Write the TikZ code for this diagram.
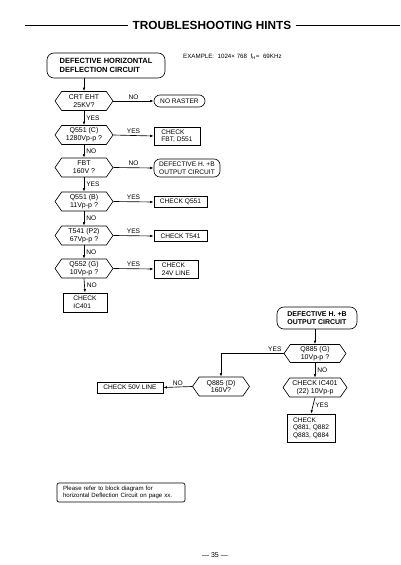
\documentclass[tikz,border=0pt]{standalone}
\usepackage{fontspec}
\setmainfont{Liberation Sans}
\usetikzlibrary{shapes.symbols,arrows.meta}
\begin{document}
\begin{tikzpicture}[x=1pt,y=-1pt,
  every node/.style={font=\fontsize{6.6}{7.6}\selectfont, inner sep=0pt},
  hex/.style={draw, shape=signal, signal to=east and west, signal pointer angle=110,
    minimum width=58pt, minimum height=19pt, align=center, line width=0.65pt,
    font=\fontsize{7}{7.8}\selectfont},
  chk/.style={draw, rectangle, align=left, line width=0.65pt},
  term/.style={draw, rounded corners=5pt, align=left, line width=0.65pt},
  arr/.style={line width=0.65pt, -{Latex[length=3.5pt,width=2.5pt]}},
  lblh/.style={above=1.5pt},
  lblv/.style={right=2pt},
]
\useasboundingbox (0,0) rectangle (400,565);
\fill[white] (0,0) rectangle (400,565);

% title
\node[font=\bfseries\fontsize{11.8}{13}\selectfont] (title) at (212,25) {TROUBLESHOOTING HINTS};
\draw[line width=1pt] (25,25) -- ([xshift=-4pt]title.west);
\draw[line width=1pt] ([xshift=4pt]title.east) -- (400,25);

\node[anchor=west, font=\fontsize{6.2}{7}\selectfont] (ex) at (183,57) {EXAMPLE:\ \ 1024× 768\ \ f\textsubscript{H}=\ \ 69KHz};

% left column
\node[term, rounded corners=7pt, font=\bfseries\fontsize{7.5}{8.7}\selectfont, minimum width=118pt, minimum height=25pt] (start) at (106,65.5) {DEFECTIVE HORIZONTAL\\DEFLECTION CIRCUIT};

\node[hex] (crt)   at (84,101) {CRT EHT\\25KV?};
\node[hex] (q551c) at (84,135) {Q551 (C)\\1280Vp-p ?};
\node[hex] (fbt)   at (84,167.5) {FBT\\160V ?};
\node[hex] (q551b) at (84,201.5) {Q551 (B)\\11Vp-p ?};
\node[hex] (t541)  at (84,235.5) {T541 (P2)\\67Vp-p ?};
\node[hex] (q552)  at (84,268.5) {Q552 (G)\\10Vp-p ?};
\node[chk, minimum width=44pt, minimum height=19pt] (chkic) at (85,302.5) {CHECK\\IC401};

\node[term, rounded corners=6pt, minimum width=51pt, minimum height=12pt] (noraster) at (179.5,101) {NO RASTER};
\node[chk, minimum width=46pt, minimum height=18pt] (chkfbt) at (177,136) {CHECK\\FBT, D551};
\node[term, rounded corners=6pt, minimum width=66pt, minimum height=18pt] (defhb1) at (187,168) {DEFECTIVE H. +B\\OUTPUT CIRCUIT};
\node[chk, minimum width=53pt, minimum height=10.5pt] (chkq551) at (180.5,202) {CHECK Q551};
\node[chk, minimum width=53pt, minimum height=10.5pt] (chkt541) at (180.5,236) {CHECK T541};
\node[chk, minimum width=44pt, minimum height=18pt] (chk24) at (176,269) {CHECK\\24V LINE};

\draw[arr] (start.south -| crt.north) -- (crt.north);
\draw[arr] (crt.east) -- node[lblh] (l1) {NO} (noraster.west);
\draw[arr] (crt.south) -- node[lblv] (l2) {YES} (q551c.north);
\draw[arr] (q551c.east) -- node[lblh] (l3) {YES} (chkfbt.west);
\draw[arr] (q551c.south) -- node[lblv] (l4) {NO} (fbt.north);
\draw[arr] (fbt.east) -- node[lblh] (l5) {NO} (defhb1.west);
\draw[arr] (fbt.south) -- node[lblv] (l6) {YES} (q551b.north);
\draw[arr] (q551b.east) -- node[lblh] (l7) {YES} (chkq551.west);
\draw[arr] (q551b.south) -- node[lblv] (l8) {NO} (t541.north);
\draw[arr] (t541.east) -- node[lblh] (l9) {YES} (chkt541.west);
\draw[arr] (t541.south) -- node[lblv] (l10) {NO} (q552.north);
\draw[arr] (q552.east) -- node[lblh] (l11) {YES} (chk24.west);
\draw[arr] (q552.south) -- node[lblv] (l12) {NO} (chkic.north);

% right part
\node[term, rounded corners=7pt, font=\bfseries\fontsize{7}{8.2}\selectfont, minimum width=80pt, minimum height=22pt] (defhb2) at (317,318) {DEFECTIVE H. +B\\OUTPUT CIRCUIT};
\node[hex, minimum width=62pt, minimum height=18pt] (q885g) at (315,353.5) {Q885 (G)\\10Vp-p ?};
\node[hex, minimum width=57pt] (q885d) at (221,386.5) {Q885 (D)\\160V?};
\node[chk, minimum width=66pt, minimum height=11pt] (chk50) at (130,387.5) {CHECK 50V LINE};
\node[hex, minimum width=64pt] (chkic2) at (315,387.5) {CHECK IC401\\(22) 10Vp-p};
\node[chk, minimum width=48pt, minimum height=28pt] (chkq88) at (311,428) {CHECK\\Q881, Q882\\Q883, Q884};

\draw[arr] (defhb2.south -| q885g.north) -- (q885g.north);
\draw[arr] (q885g.west) -| node[pos=0.07, above=1.5pt] (l13) {YES} (q885d.north);
\draw[arr] (q885d.west) -- node[lblh] (l14) {NO} (chk50.east);
\draw[arr] (q885g.south) -- node[lblv] (l15) {NO} (chkic2.north);
\draw[arr] (chkic2.south) -- node[lblv] (l16) {YES} (chkq88.north);

% note
\node[draw, rounded corners=2pt, line width=0.65pt, align=left, text width=116pt, inner xsep=6pt, minimum height=19pt, font=\fontsize{6.1}{7.2}\selectfont] (note) at (121,492.5) {Please refer to block diagram for\\horizontal Deflection Circuit on page xx.};

\node[font=\fontsize{7}{8}\selectfont] (pg) at (215,555) {— 35 —};
\end{tikzpicture}
\end{document}
